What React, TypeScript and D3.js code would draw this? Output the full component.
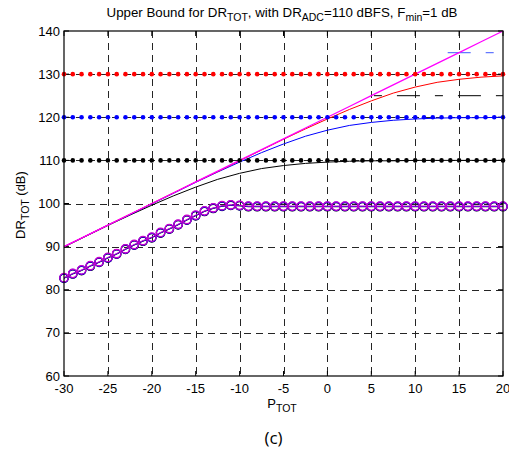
import React from "react";
import * as d3 from "d3";

// ---- data ----
const xTicks = [-30, -25, -20, -15, -10, -5, 0, 5, 10, 15, 20];
const yTicks = [60, 70, 80, 90, 100, 110, 120, 130, 140];

// x positions of the dotted / circle markers (every 1 dB)
const markerX = d3.range(-30, 21);

// horizontal dotted limits (DR of each configuration)
const redLevel = 130;
const blueLevel = 120;
const blackLevel = 110;

// solid curves, sampled every 2.5 dB
const curveX = [-30, -27.5, -25, -22.5, -20, -17.5, -15, -12.5, -10, -7.5, -5, -2.5, 0, 2.5, 5, 7.5, 10, 12.5, 15, 17.5, 20];
const magentaLine = [90, 92.5, 95, 97.5, 100, 102.5, 105, 107.5, 110, 112.5, 115, 117.5, 120, 122.5, 125, 127.5, 130, 132.5, 135, 137.5, 140];
const redLine = [90, 92.5, 95, 97.5, 100, 102.5, 105, 107.4, 109.9, 112.4, 114.9, 117.3, 119.6, 121.8, 123.8, 125.6, 127.0, 128.1, 128.8, 129.3, 129.6];
const blueLine = [90, 92.5, 95, 97.4, 99.9, 102.4, 104.9, 107.3, 109.6, 111.8, 113.8, 115.6, 117.0, 118.1, 118.8, 119.3, 119.6, 119.8, 119.9, 119.9, 120.0];
const blackLine = [89.9, 92.4, 94.9, 97.3, 99.6, 101.8, 103.8, 105.6, 107.0, 108.1, 108.8, 109.3, 109.6, 109.8, 109.9, 109.9, 110.0, 110.0, 110.0, 110.0, 110.0];

// circle series (one value per marker x)
const circleValues = [
  82.8, 83.8, 84.6, 85.6, 86.5, 87.5, 88.4, 89.5, 90.5, 91.4,
  92.2, 93.3, 94.2, 95.2, 96.3, 97.3, 98.3, 99.0, 99.5, 99.7,
  99.6, 99.4, 99.4, 99.4, 99.4, 99.4, 99.4, 99.4, 99.4, 99.4,
  99.4, 99.4, 99.4, 99.4, 99.4, 99.4, 99.4, 99.4, 99.4, 99.4,
  99.4, 99.4, 99.4, 99.4, 99.4, 99.4, 99.4, 99.4, 99.4, 99.4,
  99.4,
];

// dash-dot segments at the upper right
const dashDotBlack = { level: 125, from: 5.3, to: 20 };
const dashDotBlue = { level: 135, from: 13.7, to: 20 };

const W = 509;
const H = 456;
const FONT = "'Liberation Sans', Arial, Helvetica, sans-serif";

export default function App() {
  const x = d3.scaleLinear().domain([-30, 20]).range([64, 503]);
  const y = d3.scaleLinear().domain([60, 140]).range([376, 31]);
  const [x0, x1] = x.range();
  const [y0, y1] = y.range();

  const line = d3
    .line<[number, number]>()
    .x((d) => x(d[0]))
    .y((d) => y(d[1]));

  const curve = (vals: number[]) => line(curveX.map((cx, i) => [cx, vals[i]] as [number, number])) || "";
  const circPath = (off: number) =>
    line(markerX.map((mx, i) => [mx, circleValues[i] + off] as [number, number])) || "";

  const dots = (level: number, color: string, key: string) =>
    markerX.map((mx) => <circle key={key + mx} cx={x(mx)} cy={y(level)} r={2.3} fill={color} />);

  const circles = (off: number, color: string, key: string) =>
    markerX.map((mx, i) => (
      <circle key={key + mx} cx={x(mx)} cy={y(circleValues[i] + off)} r={4.2} fill="none" stroke={color} strokeWidth={1.3} />
    ));

  return (
    <svg width={W} height={H} style={{ position: "absolute", left: 0, top: 0, background: "#fff" }} fontFamily={FONT}>
      <rect x={0} y={0} width={W} height={H} fill="#fff" />
      {/* grid */}
      <g stroke="#000" strokeWidth={1} strokeDasharray="7,5" opacity={0.85}>
        {xTicks.slice(1, -1).map((t) => (
          <line key={"gx" + t} x1={Math.round(x(t)) + 0.5} x2={Math.round(x(t)) + 0.5} y1={y1} y2={y0} />
        ))}
        {yTicks.slice(1, -1).map((t) => (
          <line key={"gy" + t} x1={x0} x2={x1} y1={Math.round(y(t)) + 0.5} y2={Math.round(y(t)) + 0.5} />
        ))}
      </g>
      {/* ticks */}
      <g stroke="#000" strokeWidth={1}>
        {xTicks.map((t) => (
          <g key={"tx" + t}>
            <line x1={x(t)} x2={x(t)} y1={y0} y2={y0 - 5} />
            <line x1={x(t)} x2={x(t)} y1={y1} y2={y1 + 5} />
          </g>
        ))}
        {yTicks.map((t) => (
          <g key={"ty" + t}>
            <line x1={x0} x2={x0 + 5} y1={y(t)} y2={y(t)} />
            <line x1={x1} x2={x1 - 5} y1={y(t)} y2={y(t)} />
          </g>
        ))}
      </g>

      {/* dash-dot segments */}
      <line x1={x(dashDotBlack.from)} x2={x(dashDotBlack.to)} y1={y(dashDotBlack.level)} y2={y(dashDotBlack.level)}
        stroke="#000" strokeWidth={1} strokeDasharray="8,15,23,15" />
      <line x1={x(dashDotBlue.from)} x2={x(dashDotBlue.to)} y1={y(dashDotBlue.level)} y2={y(dashDotBlue.level)}
        stroke="#6478ff" strokeWidth={1.3} strokeDasharray="23,15,8,15" />

      {/* solid curves */}
      <path d={curve(blackLine)} fill="none" stroke="#000" strokeWidth={1} />
      <path d={curve(blueLine)} fill="none" stroke="#0000ff" strokeWidth={1} />
      <path d={curve(redLine)} fill="none" stroke="#ff0000" strokeWidth={1} />
      <path d={curve(magentaLine)} fill="none" stroke="#ff00ff" strokeWidth={1.3} />

      {/* dotted limits */}
      {dots(redLevel, "#ff0000", "r")}
      {dots(blueLevel, "#0000ff", "b")}
      {dots(blackLevel, "#000", "k")}

      {/* circle series */}
      <path d={circPath(-0.15)} fill="none" stroke="#000" strokeWidth={1} />
      {circles(-0.15, "#000", "ck")}
      <path d={circPath(-0.08)} fill="none" stroke="#0000ff" strokeWidth={1} />
      {circles(-0.08, "#0000ff", "cb")}
      <path d={circPath(0)} fill="none" stroke="#cc00cc" strokeWidth={1} />
      {circles(0, "#cc00cc", "cm")}

      {/* frame */}
      <rect x={x0} y={y1} width={x1 - x0} height={y0 - y1} fill="none" stroke="#000" strokeWidth={1.2} />

      {/* tick labels */}
      <g fontSize={13} fill="#000">
        {xTicks.map((t) => (
          <text key={"lx" + t} x={x(t)} y={y0 + 17} textAnchor="middle">{t}</text>
        ))}
        {yTicks.map((t) => (
          <text key={"ly" + t} x={x0 - 4} y={y(t) + 4.5} textAnchor="end">{t}</text>
        ))}
      </g>

      {/* title */}
      <text x={282} y={17} fontSize={13.3} textAnchor="middle" fill="#000">
        Upper Bound for DR<tspan dy={3.5} fontSize={10.5}>TOT</tspan>
        <tspan dy={-3.5}>, with DR</tspan>
        <tspan dy={3.5} fontSize={10.5}>ADC</tspan>
        <tspan dy={-3.5}>=110 dBFS, F</tspan>
        <tspan dy={3.5} fontSize={10.5}>min</tspan>
        <tspan dy={-3.5}>=1 dB</tspan>
      </text>

      {/* axis labels */}
      <text x={282} y={408} fontSize={13} textAnchor="middle" fill="#000">
        P<tspan dy={4} fontSize={10.5}>TOT</tspan>
      </text>
      <text transform="translate(25,205) rotate(-90)" fontSize={13} textAnchor="middle" fill="#000">
        DR<tspan dy={4} fontSize={10.5}>TOT</tspan>
        <tspan dy={-4}> (dB)</tspan>
      </text>

      <text x={273.5} y={444} fontSize={17} textAnchor="middle" fill="#000" fontFamily="'Open Sans', 'Noto Sans', sans-serif">
        (c)
      </text>
    </svg>
  );
}
